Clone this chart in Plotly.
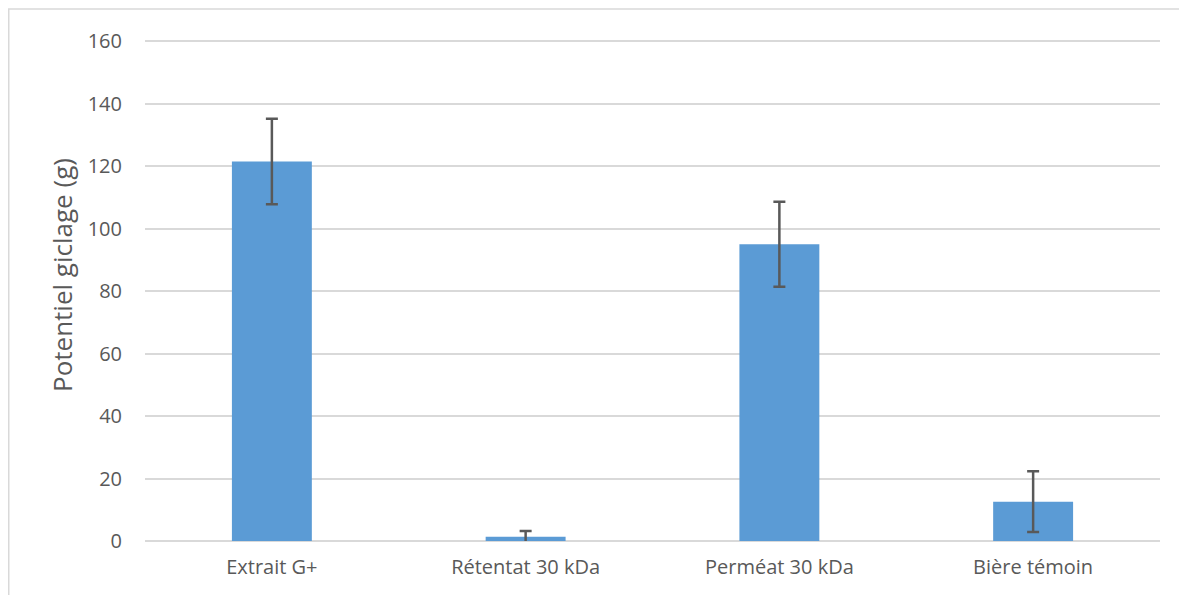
import plotly.graph_objects as go

categories = ["Extrait G+", "Rétentat 30 kDa", "Perméat 30 kDa", "Bière témoin"]
values = [121.5, 1.4, 95.0, 12.6]
errors = [13.7, 1.8, 13.6, 9.7]
y_ticks = [0, 20, 40, 60, 80, 100, 120, 140, 160]
y_title = "Potentiel giclage (g)"

# page body has an 8px margin; figure sized to fit the 1187x603 window
W, H = 1171, 587
ml, mr, mt, mb = 137, 19, 32, 54
pw = W - ml - mr
ph = H - mt - mb

fig = go.Figure()
fig.add_trace(go.Bar(
    x=categories, y=values,
    marker=dict(color="#5B9BD5", line=dict(width=0)),
    error_y=dict(type="data", array=errors, visible=True,
                 color="#595959", thickness=2.5, width=6),
    width=0.315,
))

font = "Open Sans, Liberation Sans, sans-serif"
fig.update_layout(
    width=W, height=H,
    margin=dict(l=ml, r=mr, t=mt, b=mb),
    paper_bgcolor="white", plot_bgcolor="white",
    showlegend=False,
    font=dict(family=font, color="#595959", size=20),
    xaxis=dict(showgrid=False, showline=False, ticks="",
               tickfont=dict(size=20, color="#595959"),
               ticklabelstandoff=12),
    yaxis=dict(range=[0, 160.4], tickvals=y_ticks, showgrid=True,
               gridcolor="#D9D9D9", gridwidth=1.5,
               zeroline=True, zerolinecolor="#D9D9D9", zerolinewidth=1.5,
               showline=False, ticks="",
               tickfont=dict(size=20, color="#595959"),
               ticklabelstandoff=22),
)

# y-axis title, placed slightly above plot centre as in the reference
fig.add_annotation(text=y_title, textangle=-90, showarrow=False,
                   xref="paper", yref="paper",
                   x=(54 - ml) / pw, y=1 - (267 - mt) / ph,
                   xanchor="center", yanchor="middle",
                   font=dict(size=26, color="#595959", family=font))

# chart-area border (Excel style frame), extending off the picture
fig.add_shape(type="rect", xref="paper", yref="paper",
              x0=(0.75 - ml) / pw, x1=(W + 20 - ml) / pw,
              y0=-(mb + 20) / ph, y1=1 + (mt - 1) / ph,
              line=dict(color="#D9D9D9", width=1.5), fillcolor="rgba(0,0,0,0)",
              layer="below")

fig.write_html("out.html")
